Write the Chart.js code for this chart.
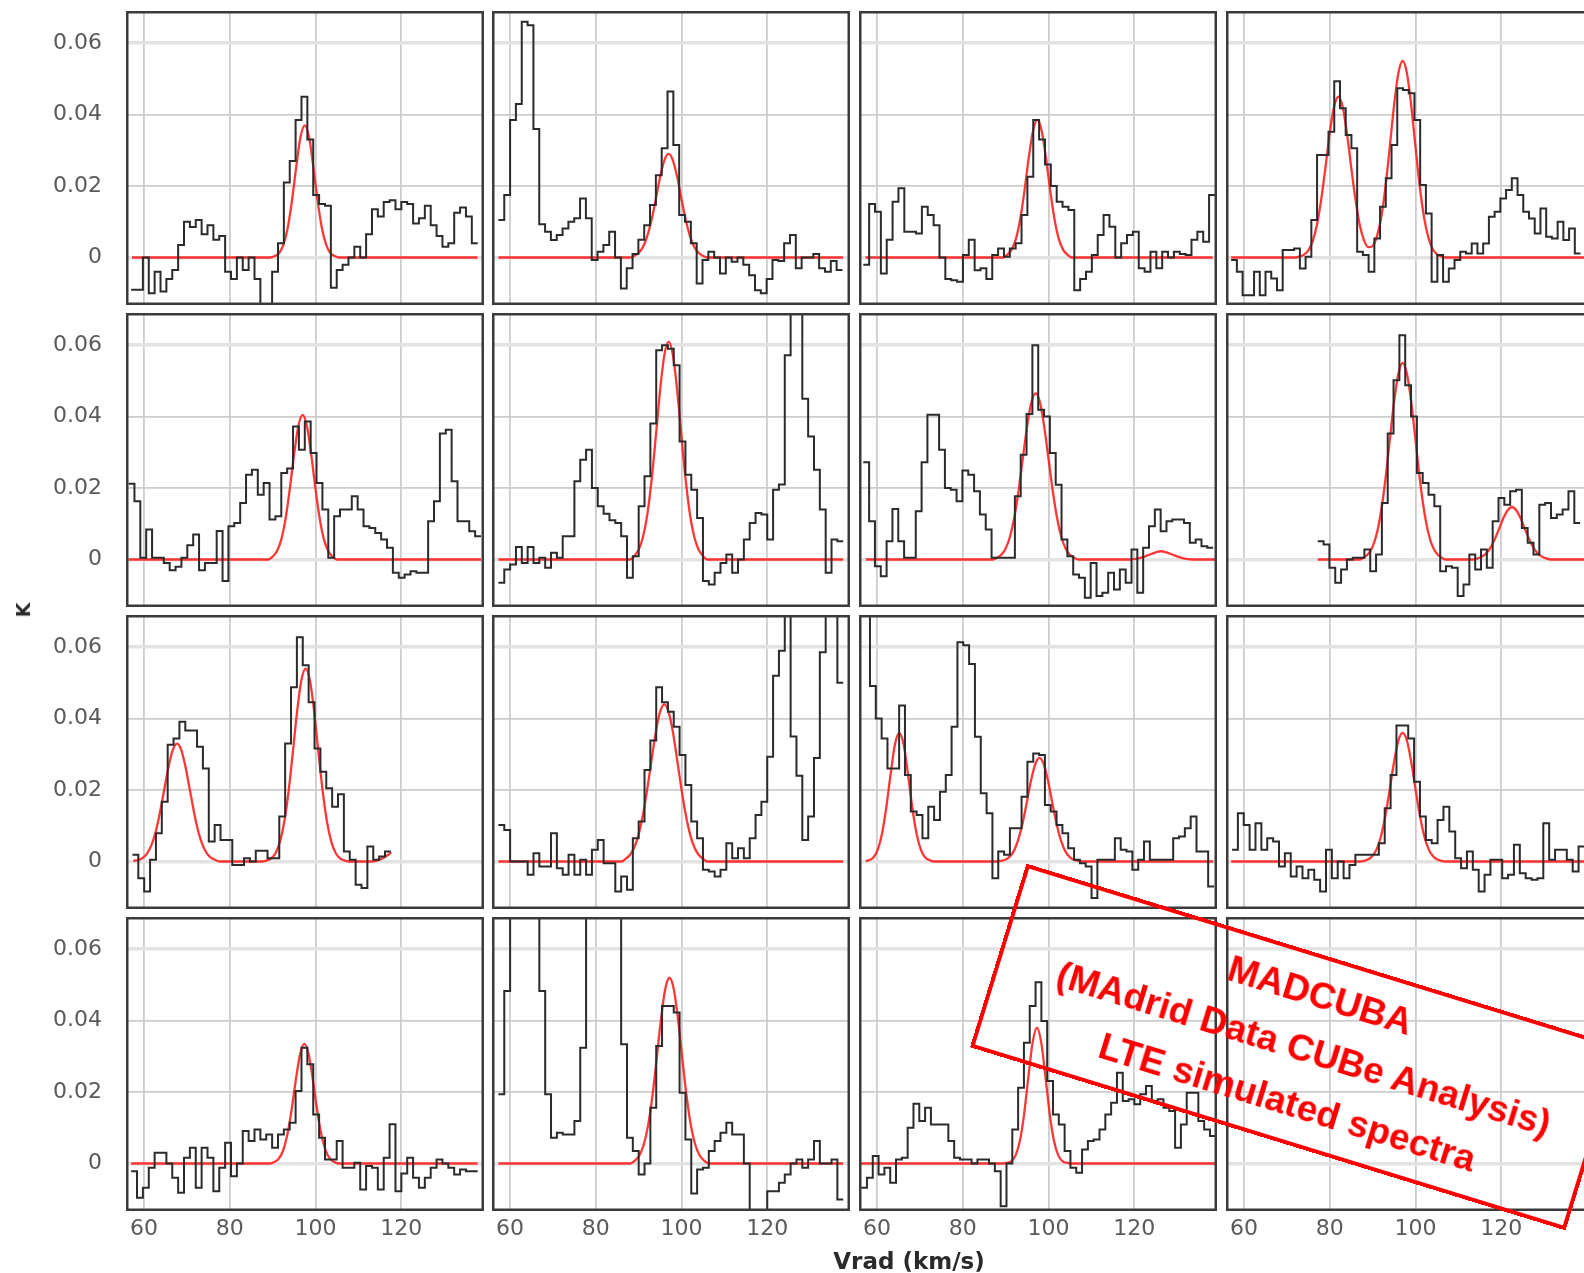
<!DOCTYPE html>
<html>
<head>
    <meta charset="UTF-8">
    <title>LTE simulated spectra</title>
    <script src="https://cdn.jsdelivr.net/npm/chart.js@4"></script>
    <style>
        body { margin: 0; width: 1584px; height: 1273px; overflow: hidden; background: #fff; position: relative; font-family: "DejaVu Sans", sans-serif; }
        #panels canvas { position: absolute; }
        .axisTitle { position: absolute; font-weight: bold; color: #2a2a2a; white-space: nowrap; z-index: 5; }
        #yTitle { left: 23px; top: 610px; font-size: 19px; transform: translate(-50%, -50%) rotate(-90deg); }
        #xTitle { left: 909px; top: 1261px; font-size: 23px; transform: translate(-50%, -50%); }
        #stamp {
            position: absolute; left: 1296px; top: 1047px; width: 623px; height: 192px;
            box-sizing: border-box; border: 4px solid #f00; z-index: 6;
            transform: translate(-50%, -50%) rotate(17.1deg);
            display: flex; flex-direction: column; justify-content: center; align-items: center;
            color: #f00; font: bold 37px "Liberation Sans", Arial, sans-serif; line-height: 56px;
            padding-left: 16px; white-space: nowrap;
        }
    </style>
</head>
<body>
    <div id="panels"></div>
    <div class="axisTitle" id="yTitle">K</div>
    <div class="axisTitle" id="xTitle">Vrad (km/s)</div>
    <div id="stamp">
        <div>MADCUBA</div>
        <div>(MAdrid Data CUBe Analysis)</div>
        <div>LTE simulated spectra</div>
    </div>

<script>
// observed spectra, one value per channel (K), panels row by row
const spec11 = [-0.009,-0.009,0.000,-0.010,-0.004,-0.0095,-0.006,-0.0035,0.0035,0.010,
    0.0085,0.0105,0.0065,0.009,0.005,0.006,-0.004,-0.006,0.000,-0.0035,
    0.000,-0.006,-0.013,-0.0135,-0.004,0.004,0.021,0.027,0.0385,0.045,
    0.033,0.0175,0.015,0.0145,-0.0085,-0.0035,-0.002,0.000,0.003,0.000,
    0.0065,0.0135,0.0115,0.0155,0.016,0.0135,0.0155,0.015,0.0095,0.011,
    0.0145,0.009,0.006,0.003,0.004,0.0125,0.014,0.0115,0.004];
const spec12 = [0.0105,0.0175,0.0385,0.043,0.066,0.065,0.036,0.0093,0.0072,0.0049,
    0.0063,0.0081,0.010,0.011,0.0165,0.011,-0.0007,0.0016,0.0035,0.0072,
    0.000,-0.0087,-0.003,0.001,0.005,0.009,0.0147,0.023,0.0306,0.0465,
    0.0315,0.0119,0.010,0.004,-0.0073,-0.0007,0.0016,0.000,-0.0045,0.000,
    -0.0012,0.000,-0.002,-0.005,-0.0092,-0.010,-0.006,-0.0007,-0.001,0.004,
    0.0063,-0.003,0.000,0.000,0.001,-0.003,-0.004,-0.001,-0.0035];
const spec13 = [-0.002,0.015,0.0128,-0.0045,0.005,0.0156,0.0194,0.0072,0.0072,0.0067,
    0.0142,0.0119,0.009,0.000,-0.006,-0.0064,-0.0068,0.0007,0.005,-0.0036,
    -0.003,-0.006,0.0007,0.0025,0.0002,0.0025,0.004,0.0119,0.0226,0.0385,
    0.033,0.026,0.020,0.0156,0.0142,0.0133,-0.0092,-0.006,-0.004,0.0007,
    0.0063,0.0119,0.0086,0.000,0.004,0.0063,0.0072,-0.003,-0.004,0.0016,
    -0.003,0.0016,0.000,0.0016,0.001,0.0007,0.005,0.0072,0.0044,0.0175];
const spec14 = [-0.0007,-0.004,-0.0106,-0.0106,-0.004,-0.0106,-0.004,-0.0059,-0.0092,0.0021,
    0.0021,0.0025,-0.0031,0.0002,0.0105,0.0287,0.0287,0.0352,0.0493,0.0418,
    0.0343,0.0306,0.0016,0.0007,-0.004,0.0053,0.0142,0.0222,0.0315,0.0474,
    0.0469,0.046,0.0385,0.0203,0.0123,-0.0068,0.0007,-0.0068,-0.0031,-0.0007,
    0.0016,0.0011,0.0039,0.0011,0.0039,0.0114,0.0128,0.0165,0.0189,0.0222,
    0.0175,0.0128,0.0109,0.0067,0.0137,0.0058,0.0053,0.010,0.0049,0.0081,0.0011];
const spec21 = [0.0212,0.0163,0.0005,0.0084,0.0005,0.0005,-0.001,-0.003,-0.002,0.0005,
    0.004,0.007,-0.003,-0.001,-0.001,0.008,-0.006,0.0093,0.0102,0.0158,
    0.0237,0.0251,0.0181,0.0214,0.0112,0.0121,0.0242,0.0255,0.0372,0.0307,
    0.0386,0.0298,0.0214,0.014,0.0005,0.0121,0.014,0.014,0.0177,0.014,
    0.0093,0.0088,0.0074,0.0056,0.0033,-0.0037,-0.0051,-0.0042,-0.0033,-0.0037,
    -0.0037,0.0107,0.0163,0.0353,0.0363,0.0219,0.0107,0.0107,0.0079,0.0065];
const spec22 = [-0.0065,-0.0028,-0.0014,0.0035,-0.001,0.0035,-0.001,0.0005,-0.0023,0.0019,
    0.0005,0.0065,0.0065,0.0219,0.0279,0.0307,0.020,0.0149,0.0128,0.011,
    0.0102,0.0065,-0.0051,0.0009,0.0149,0.0233,0.0381,0.0586,0.060,0.059,
    0.0544,0.033,0.0237,0.0195,0.0116,-0.006,-0.007,-0.0037,-0.001,0.0014,
    -0.0037,0.000,0.0056,0.0102,0.013,0.0126,0.0056,0.0195,0.021,0.0572,
    0.072,0.072,0.045,0.0344,0.0251,0.014,-0.0037,0.0056,0.0051];
const spec23 = [0.0272,0.0107,-0.0019,-0.0047,0.0051,0.0141,0.0051,0.0005,0.0005,0.0135,
    0.0272,0.0405,0.0405,0.0307,0.020,0.0195,0.0163,0.0249,0.0237,0.0191,
    0.0126,0.0084,0.0005,0.0005,0.0005,0.0005,0.0177,0.0293,0.0407,0.060,
    0.0419,0.040,0.0298,0.0209,0.0056,0.0009,-0.0042,-0.0051,-0.0107,-0.001,
    -0.0102,-0.0093,-0.0037,-0.0084,-0.0028,-0.0065,0.0028,-0.0093,0.0033,0.0093,
    0.014,0.0079,0.0107,0.0112,0.0112,0.0102,0.0047,0.0056,0.0037,0.0033];
const spec24 = [0.0051,0.0042,-0.0023,-0.0065,-0.0028,0.000,0.0005,0.0005,0.0028,-0.0033,
    0.0014,0.0158,0.0353,0.0502,0.0628,0.0488,0.040,0.0242,0.0214,0.0181,
    0.0149,-0.0033,-0.0019,-0.0023,-0.0102,-0.007,0.0014,-0.0028,0.0028,-0.0023,
    0.0107,0.0172,0.0153,0.0191,0.0195,0.0088,0.0047,0.0014,0.0153,0.0158,
    0.0116,0.0126,0.014,0.0191,0.0102];
const spec31 = [0.0019,-0.0047,-0.0084,0.0005,0.0079,0.0167,0.0327,0.0344,0.0391,0.0367,
    0.0367,0.0321,0.026,0.0056,0.0102,0.006,0.006,-0.001,-0.001,0.0009,
    0.000,0.003,0.003,0.0009,0.0009,0.0126,0.033,0.0488,0.0628,0.0549,
    0.0446,0.0316,0.0251,0.0205,0.0153,0.0188,0.0028,0.0005,-0.0065,-0.0074,
    0.0042,0.0005,0.0014,0.0028];
const spec32 = [0.0102,0.0088,0.000,0.000,0.000,-0.0037,0.0023,-0.0014,-0.0014,0.0079,
    -0.0019,-0.0037,0.0019,-0.0037,0.0005,-0.0037,0.0033,0.006,-0.0005,-0.0005,
    -0.0084,-0.0042,-0.0079,0.0065,0.0112,0.0256,0.0339,0.0488,0.0446,0.0419,
    0.0377,0.0298,0.0214,0.0112,0.0065,-0.0023,-0.0028,-0.0042,-0.0023,0.0051,
    0.0009,0.0037,0.0009,0.0065,0.013,0.0167,0.0293,0.052,0.059,0.075,
    0.035,0.024,0.006,0.0126,0.029,0.0586,0.075,0.075,0.050];
const spec33 = [0.08,0.0491,0.040,0.0344,0.026,0.026,0.0437,0.0242,0.014,0.013,
    0.0065,0.0153,0.0116,0.0195,0.0242,0.0377,0.0614,0.0605,0.0553,0.0349,
    0.0191,0.0135,-0.0047,0.0028,0.0019,0.0093,0.0093,0.0181,0.0279,0.0302,
    0.0298,0.0158,0.014,0.0102,0.0079,0.0037,0.0005,-0.0005,-0.0014,-0.0102,
    0.0005,0.0005,0.0005,0.0065,0.0033,0.0028,-0.0023,0.0005,0.0056,0.0005,
    0.0005,0.0005,0.0005,0.0065,0.007,0.0093,0.0126,0.0028,0.0028,-0.007];
const spec34 = [0.0033,0.0135,0.0102,0.0033,0.0107,0.0033,0.0065,0.0056,-0.0014,0.0023,
    -0.0042,-0.0014,-0.0047,-0.0023,-0.0051,-0.0084,0.0033,-0.0047,0.000,-0.0047,
    -0.001,0.0019,0.0019,0.0019,0.0019,0.0051,0.0149,0.0242,0.0381,0.0381,
    0.0344,0.0223,0.0126,0.006,0.0051,0.0116,0.0153,0.0084,0.0009,-0.0019,
    0.0028,-0.0023,-0.0084,-0.0037,0.0005,0.0005,-0.0047,-0.0037,0.0047,-0.0033,
    -0.0047,-0.0051,-0.0047,0.0107,0.0005,0.0033,0.0033,0.0005,-0.0028,0.0042];
const spec41 = [-0.0022,-0.0096,-0.0068,-0.0012,0.003,0.003,0.000,-0.004,-0.0082,0.0016,
    0.0044,-0.0068,0.0044,0.0016,-0.0078,-0.0012,0.0058,-0.0036,0.000,0.0091,
    0.0063,0.0095,0.0067,0.0081,0.0044,0.0081,0.0095,0.0114,0.0203,0.0324,
    0.0278,0.0137,0.0072,0.0011,0.0011,0.0063,-0.0012,-0.0012,0.0002,-0.0073,
    -0.0007,-0.0012,-0.0073,0.0016,0.011,-0.0078,-0.0028,0.0016,-0.004,-0.0068,
    -0.004,-0.0012,0.0011,0.000,-0.0012,-0.0031,-0.0017,-0.0022,-0.0022];
const spec42 = [0.0194,0.0483,0.08,0.08,0.08,0.08,0.08,0.0483,0.0194,0.0072,
    0.0086,0.0081,0.0081,0.0119,0.0324,0.08,0.08,0.08,0.08,0.08,
    0.08,0.0334,0.0072,0.0035,-0.0031,0.000,0.0156,0.0329,0.0441,0.0441,
    0.0423,0.0198,0.0067,-0.0084,-0.0017,-0.0012,0.0035,0.0063,0.0086,0.0114,
    0.0081,0.0081,0.000,-0.02,-0.02,-0.02,-0.0078,-0.0078,-0.0054,-0.0031,
    0.000,0.0011,-0.0012,0.0011,0.0063,0.000,0.000,0.0011,-0.0101];
const spec43 = [-0.0068,-0.004,0.0021,-0.0031,-0.0012,-0.0054,0.0011,0.0016,0.010,0.0167,
    0.0119,0.0156,0.0109,0.0109,0.0109,0.0063,0.0016,0.0011,0.0011,0.000,
    0.0011,0.0011,0.000,-0.0022,-0.012,0.000,0.0095,0.0212,0.0338,0.0441,
    0.0507,0.0399,0.0231,0.0137,0.0109,0.0035,-0.0012,-0.0026,0.0039,0.0063,
    0.0067,0.0095,0.0137,0.017,0.0254,0.0175,0.018,0.0166,0.0194,0.0217,
    0.0175,0.018,0.0156,0.0147,0.0044,0.0109,0.0198,0.0198,0.0119,0.0095,0.0077];

// first channel velocity and channel width (km/s) of each panel
const vStart    = [57.0, 57.3, 56.8, 57.0,  56.4, 57.3, 56.8, 77.2,  57.3, 57.3, 57.0, 57.2,  57.0, 57.3, 56.3, null];
const chanWidth = [1.37, 1.36, 1.367, 1.336, 1.37, 1.363, 1.36, 1.36, 1.37, 1.363, 1.36, 1.37, 1.37, 1.363, 1.356, null];

// LTE model profiles as [velocity, K] pairs
const model11 = [[57.2,0],[89.5,0],[90.5,0.0004],[91.5,0.0012],[92.5,0.0035],[93.5,0.0082],[94.5,0.0158],[95.5,0.0253],[96.5,0.0337],[97.5,0.037],[98.5,0.0337],[99.5,0.0253],[100.5,0.0158],[101.5,0.0082],[102.5,0.0035],[103.5,0.0012],[104.5,0.0004],[105.5,0],[137.8,0]];
const model12 = [[57.3,0],[88,0],[89,0.0005],[90,0.0013],[91,0.0029],[92,0.0059],[93,0.0104],[94,0.0163],[95,0.0225],[96,0.0272],[97,0.029],[98,0.0272],[99,0.0225],[100,0.0163],[101,0.0104],[102,0.0059],[103,0.0029],[104,0.0013],[105,0.0005],[106,0],[137.7,0]];
const model13 = [[57.3,0],[89.4,0],[90.4,0.0008],[91.4,0.0022],[92.4,0.0052],[93.4,0.0107],[94.4,0.0187],[95.4,0.028],[96.4,0.0355],[97.4,0.0385],[98.4,0.0355],[99.4,0.028],[100.4,0.0187],[101.4,0.0107],[102.4,0.0052],[103.4,0.0022],[104.4,0.0008],[105.4,0],[138.3,0]];
const model14 = [[57,0],[72,0],[73,0.0003],[74,0.0008],[75,0.002],[76,0.0045],[77,0.0091],[78,0.0162],[79,0.0253],[80,0.0349],[81,0.0422],[82,0.045],[83,0.0422],[84,0.0349],[85,0.0253],[86,0.0162],[87,0.0091],[88,0.0048],[89,0.0029],[90,0.0032],[91,0.0059],[92,0.0112],[93,0.0198],[94,0.031],[95,0.0426],[96,0.0516],[97,0.055],[98,0.0516],[99,0.0426],[100,0.031],[101,0.0198],[102,0.0112],[103,0.0056],[104,0.0024],[105,0.0009],[106,0.0003],[107,0],[139.3,0]];
const model21 = [[56.4,0],[89,0],[90,0.0008],[91,0.0023],[92,0.0055],[93,0.0113],[94,0.0197],[95,0.0294],[96,0.0374],[97,0.0405],[98,0.0374],[99,0.0294],[100,0.0197],[101,0.0113],[102,0.0055],[103,0.0023],[104,0.0008],[105,0],[138.6,0]];
const model22 = [[57.3,0],[88,0],[89,0.001],[90,0.0027],[91,0.0062],[92,0.0124],[93,0.022],[94,0.0343],[95,0.0473],[96,0.0572],[97,0.061],[98,0.0572],[99,0.0473],[100,0.0343],[101,0.022],[102,0.0124],[103,0.0062],[104,0.0027],[105,0.001],[106,0],[137.7,0]];
const model23 = [[57.4,0],[87,0],[88,0.0005],[89,0.0013],[90,0.0031],[91,0.0063],[92,0.0116],[93,0.0191],[94,0.0282],[95,0.0372],[96,0.044],[97,0.0465],[98,0.044],[99,0.0372],[100,0.0282],[101,0.0191],[102,0.0116],[103,0.0063],[104,0.0031],[105,0.0013],[106,0.0005],[107,0],[119,0],[121,0.0003],[123,0.0011],[125,0.002],[126.2,0.0023],[127.5,0.002],[129.5,0.0011],[131.5,0.0003],[133.5,0],[139.3,0]];
const model24 = [[77.2,0],[87,0],[88,0.0006],[89,0.0016],[90,0.0036],[91,0.0074],[92,0.0137],[93,0.0226],[94,0.0334],[95,0.0441],[96,0.052],[97,0.055],[98,0.052],[99,0.0441],[100,0.0334],[101,0.0226],[102,0.0137],[103,0.0074],[104,0.0036],[105,0.0016],[106,0.0006],[107,0],[113.5,0],[114.5,0.0003],[115.5,0.0008],[116.5,0.0017],[117.5,0.0033],[118.5,0.0057],[119.5,0.0086],[120.5,0.0116],[121.5,0.0138],[122.5,0.0147],[123.5,0.0138],[124.5,0.0116],[125.5,0.0086],[126.5,0.0057],[127.5,0.0033],[128.5,0.0017],[129.5,0.0008],[130.5,0.0003],[131.5,0],[139.3,0]];
const model31 = [[57.5,0.0002],[58.7,0.0004],[59.7,0.001],[60.7,0.0022],[61.7,0.0045],[62.7,0.0082],[63.7,0.0136],[64.7,0.02],[65.7,0.0264],[66.7,0.0312],[67.7,0.033],[68.7,0.0312],[69.7,0.0264],[70.7,0.02],[71.7,0.0136],[72.7,0.0082],[73.7,0.0045],[74.7,0.0022],[75.7,0.001],[76.7,0.0004],[77.7,0],[87.7,0],[88.7,0.0003],[89.7,0.0009],[90.7,0.0024],[91.7,0.0055],[92.7,0.011],[93.7,0.0194],[94.7,0.0304],[95.7,0.0419],[96.7,0.0507],[97.7,0.054],[98.7,0.0507],[99.7,0.0419],[100.7,0.0304],[101.7,0.0194],[102.7,0.011],[103.7,0.0055],[104.7,0.0024],[105.7,0.0009],[106.7,0.0003],[107.7,0],[113,0],[115.5,0.0008],[117.7,0.0025]];
const model32 = [[57.3,0],[86,0],[87,0.0008],[88,0.0019],[89,0.004],[90,0.0076],[91,0.013],[92,0.0202],[93,0.0283],[94,0.0362],[95,0.0419],[96,0.044],[97,0.0419],[98,0.0362],[99,0.0283],[100,0.0202],[101,0.013],[102,0.0076],[103,0.004],[104,0.0019],[105,0.0008],[106,0],[137.7,0]];
const model33 = [[57.4,0.0001],[58.2,0.0004],[59.2,0.0012],[60.2,0.0034],[61.2,0.008],[62.2,0.0154],[63.2,0.0247],[64.2,0.0328],[65.2,0.036],[66.2,0.0328],[67.2,0.0247],[68.2,0.0154],[69.2,0.008],[70.2,0.0034],[71.2,0.0012],[72.2,0.0004],[73.2,0],[87.9,0],[88.9,0.0002],[89.9,0.0005],[90.9,0.0013],[91.9,0.0029],[92.9,0.0059],[93.9,0.0104],[94.9,0.0163],[95.9,0.0225],[96.9,0.0272],[97.9,0.029],[98.9,0.0272],[99.9,0.0225],[100.9,0.0163],[101.9,0.0104],[102.9,0.0059],[103.9,0.0029],[104.9,0.0013],[105.9,0.0005],[106.9,0.0002],[107.9,0],[138.4,0]];
const model34 = [[57,0],[87,0],[88,0.0002],[89,0.0006],[90,0.0016],[91,0.0036],[92,0.0073],[93,0.013],[94,0.0203],[95,0.0279],[96,0.0338],[97,0.036],[98,0.0338],[99,0.0279],[100,0.0203],[101,0.013],[102,0.0073],[103,0.0036],[104,0.0016],[105,0.0006],[106,0.0002],[107,0],[139.3,0]];
const model41 = [[57,0],[89.4,0],[90.4,0.0004],[91.4,0.0013],[92.4,0.0035],[93.4,0.0079],[94.4,0.0148],[95.4,0.0233],[96.4,0.0306],[97.4,0.0335],[98.4,0.0306],[99.4,0.0233],[100.4,0.0148],[101.4,0.0079],[102.4,0.0035],[103.4,0.0013],[104.4,0.0004],[105.4,0],[137.8,0]];
const model42 = [[57.3,0],[88,0],[89.2,0.0009],[90.2,0.0023],[91.2,0.0053],[92.2,0.0106],[93.2,0.0187],[94.2,0.0293],[95.2,0.0403],[96.2,0.0488],[97.2,0.052],[98.2,0.0488],[99.2,0.0403],[100.2,0.0293],[101.2,0.0187],[102.2,0.0106],[103.2,0.0053],[104.2,0.0023],[105.2,0.0009],[106.4,0],[137.7,0]];
const model43 = [[56.3,0],[89.5,0],[90.3,0.0002],[91.3,0.0006],[92.3,0.0022],[93.3,0.0062],[94.3,0.0137],[95.3,0.0242],[96.3,0.0339],[97.3,0.038],[98.3,0.0339],[99.3,0.0242],[100.3,0.0137],[101.3,0.0062],[102.3,0.0022],[103.3,0.0006],[104.3,0.0002],[105.1,0],[139,0]];

const spectra = [spec11, spec12, spec13, spec14, spec21, spec22, spec23, spec24,
                 spec31, spec32, spec33, spec34, spec41, spec42, spec43, null];
const models  = [model11, model12, model13, model14, model21, model22, model23, model24,
                 model31, model32, model33, model34, model41, model42, model43, null];

// axes
const xTicks = [60, 80, 100, 120];
const yTicks = [0, 0.02, 0.04, 0.06];
const xRange = [55.8, 139.3];
const yRange = [-0.0133, 0.069];

// grid of panels on the page; the last column runs past the right edge
const colLeft = [126, 492, 859, 1226];
const colWidth = [358, 358, 358, 363];
const rowTop = [11, 313, 615, 917];
const panelH = 294, xAxisH = 42;
const kmsPerPx = (xRange[1] - xRange[0]) / 358;

const tickFont = { family: 'DejaVu Sans', size: 22 };
const tickColor = '#5a5a5a';

// dark box around every panel
const panelFrame = {
    id: 'panelFrame',
    afterDatasetsDraw(chart) {
        const a = chart.chartArea;
        const ctx = chart.ctx;
        ctx.save();
        ctx.strokeStyle = '#3b3b3b';
        ctx.lineWidth = 2.5;
        ctx.strokeRect(a.left + 1.25, a.top + 1.25, a.right - a.left - 2.5, a.bottom - a.top - 2.5);
        ctx.restore();
    }
};

function isEdgeLine(v) {
    return Math.abs(v) < 1e-9 || Math.abs(v - 0.06) < 1e-9;
}

function makePanel(r, c) {
    const k = r * 4 + c;
    const first = c === 0;
    const last = r === 3;
    const w = colWidth[c];

    const cv = document.createElement('canvas');
    cv.width = first ? colLeft[0] + w : w;
    cv.height = last ? panelH + xAxisH : panelH;
    cv.style.left = (first ? 0 : colLeft[c]) + 'px';
    cv.style.top = rowTop[r] + 'px';
    document.getElementById('panels').appendChild(cv);

    const datasets = [];
    if (spectra[k]) {
        const vals = spectra[k];
        // each value holds from its channel edge to the next one
        const pts = vals.map((t, i) => ({ x: vStart[k] + i * chanWidth[k], y: t }));
        pts.push({ x: vStart[k] + vals.length * chanWidth[k], y: vals[vals.length - 1] });
        datasets.push({
            data: pts, stepped: 'before', borderColor: '#2b2b2b', borderWidth: 2,
            pointRadius: 0, fill: false
        });
        datasets.push({
            data: models[k].map(p => ({ x: p[0], y: p[1] })),
            borderColor: 'rgba(255, 20, 20, 0.85)', borderWidth: 2.3,
            pointRadius: 0, fill: false, cubicInterpolationMode: 'monotone'
        });
    }

    new Chart(cv, {
        type: 'line',
        data: { datasets: datasets },
        options: {
            responsive: false,
            maintainAspectRatio: false,
            animation: false,
            devicePixelRatio: 1,
            layout: { padding: 0 },
            events: [],
            plugins: { legend: { display: false }, tooltip: { enabled: false } },
            scales: {
                x: {
                    type: 'linear', min: xRange[0], max: xRange[0] + w * kmsPerPx,
                    afterBuildTicks: s => { s.ticks = xTicks.map(v => ({ value: v })); },
                    afterFit: s => {
                        s.height = last ? xAxisH : 0;
                        s.paddingLeft = 0; s.paddingRight = 0;
                    },
                    border: { display: false },
                    grid: { color: '#cdcdcd', lineWidth: 1.8, drawTicks: false },
                    ticks: {
                        display: last, font: tickFont, color: tickColor, padding: 5,
                        maxRotation: 0, autoSkip: false, callback: v => String(v)
                    }
                },
                y: {
                    type: 'linear', min: yRange[0], max: yRange[1],
                    afterBuildTicks: s => { s.ticks = yTicks.map(v => ({ value: v })); },
                    afterFit: s => {
                        s.width = first ? colLeft[0] : 0;
                        s.paddingTop = 0; s.paddingBottom = 0;
                    },
                    border: { display: false },
                    grid: {
                        drawTicks: false,
                        color: ctx => isEdgeLine(ctx.tick.value) ? '#e3e3e3' : '#cdcdcd',
                        lineWidth: ctx => isEdgeLine(ctx.tick.value) ? 3.5 : 1.8
                    },
                    ticks: {
                        display: first, font: tickFont, color: tickColor, padding: 24,
                        autoSkip: false, callback: v => String(v)
                    }
                }
            }
        },
        plugins: [panelFrame]
    });
}

for (let r = 0; r < 4; r++) {
    for (let c = 0; c < 4; c++) {
        makePanel(r, c);
    }
}
</script>
</body>
</html>
